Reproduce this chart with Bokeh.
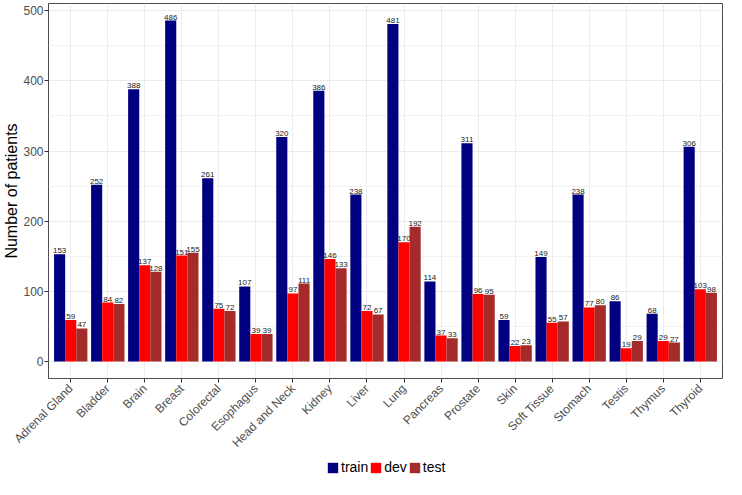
import math
from bokeh.plotting import figure
from bokeh.layouts import column
from bokeh.models import (Range1d, FixedTicker, Legend, LegendItem, ColumnDataSource)
from bokeh.core.properties import value
from bokeh.embed import file_html
from bokeh.resources import INLINE

categories = ["Adrenal Gland", "Bladder", "Brain", "Breast", "Colorectal", "Esophagus",
              "Head and Neck", "Kidney", "Liver", "Lung", "Pancreas", "Prostate", "Skin",
              "Soft Tissue", "Stomach", "Testis", "Thymus", "Thyroid"]
train = [153, 252, 388, 486, 261, 107, 320, 386, 238, 481, 114, 311, 59, 149, 238, 86, 68, 306]
dev = [59, 84, 137, 151, 75, 39, 97, 146, 72, 170, 37, 96, 22, 55, 77, 19, 29, 103]
test = [47, 82, 128, 155, 72, 39, 111, 133, 67, 192, 33, 95, 23, 57, 80, 29, 27, 98]
series_names = ["train", "dev", "test"]
series_colors = ["#000080", "#FF0000", "#A52A2A"]
y_ticks = [0, 100, 200, 300, 400, 500]
y_minor = [50, 150, 250, 350, 450]

FONT = "Liberation Sans"
n = len(categories)

p = figure(width=726, height=457, output_backend="svg", toolbar_location=None,
           x_range=Range1d(0.4, n + 0.6), y_range=Range1d(-24.3, 510.3),
           min_border_left=0, min_border_right=4, min_border_top=3, min_border_bottom=0)

p.background_fill_color = "white"
p.outline_line_color = "#4D4D4D"
p.outline_line_width = 1

for k, (vals, name, col) in enumerate(zip([train, dev, test], series_names, series_colors)):
    xs = [i + 1 + (k - 1) * 0.3 for i in range(n)]
    src = ColumnDataSource(dict(x=xs, top=vals, label=[str(v) for v in vals]))
    p.vbar(x="x", top="top", bottom=0, width=0.3, source=src,
           fill_color=col, line_color=None)
    p.text(x="x", y="top", text="label", source=src, text_align="center",
           text_baseline="bottom", y_offset=-1, text_font_size="8px",
           text_color="#1a1a1a", text_font=value(FONT))

# axes
xa = p.xaxis[0]
xa.ticker = FixedTicker(ticks=list(range(1, n + 1)), minor_ticks=[])
xa.major_label_overrides = {i + 1: c for i, c in enumerate(categories)}
xa.major_label_orientation = math.pi / 4
ya = p.yaxis[0]
ya.ticker = FixedTicker(ticks=y_ticks, minor_ticks=y_minor)
ya.axis_label = "Number of patients"
ya.axis_label_text_font = FONT
ya.axis_label_text_font_size = "16px"
ya.axis_label_text_font_style = "normal"
ya.axis_label_text_color = "black"
ya.axis_label_standoff = 0
for ax in (xa, ya):
    ax.axis_line_color = None
    ax.major_tick_line_color = "#333333"
    ax.major_tick_out = 4
    ax.major_tick_in = 0
    ax.minor_tick_line_color = None
    ax.major_label_text_font = FONT
    ax.major_label_text_font_size = "12px"
    ax.major_label_text_color = "#4D4D4D"
ya.major_label_standoff = 1
xa.major_label_standoff = 4

p.xgrid.grid_line_color = "#EBEBEB"
p.ygrid.grid_line_color = "#EBEBEB"
p.ygrid.minor_grid_line_color = "#F2F2F2"
p.ygrid.grid_line_width = 1

# legend in its own strip below the chart
lf = figure(width=726, height=22, output_backend="svg", toolbar_location=None,
            x_range=Range1d(0, 1), y_range=Range1d(0, 1),
            x_axis_location=None, y_axis_location=None,
            min_border_left=0, min_border_right=0, min_border_top=0, min_border_bottom=0)
lf.grid.visible = False
lf.outline_line_color = None
items = []
for name, col in zip(series_names, series_colors):
    # zero-height placeholder outside the visible range; only its legend swatch shows
    lr = lf.vbar(x=[-10], top=[0], width=0.1, fill_color=col, line_color=None)
    items.append(LegendItem(label=name, renderers=[lr]))
legend = Legend(items=items, orientation="horizontal", location=(278, 4),
                glyph_width=13, glyph_height=13, label_standoff=2, spacing=1,
                padding=0, margin=0, label_height=14,
                label_text_font=FONT, label_text_font_size="14px",
                label_text_color="black",
                border_line_color=None, background_fill_alpha=0)
lf.add_layout(legend)

layout = column(p, lf, spacing=0)
open("out.html", "w").write(file_html(layout, INLINE))
